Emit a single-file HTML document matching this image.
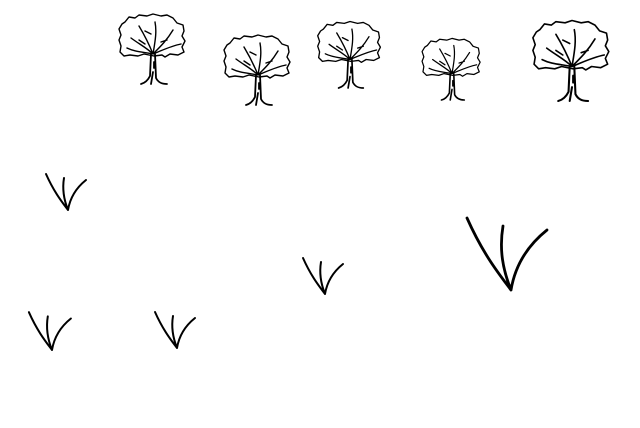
<!DOCTYPE html>
<html><head><meta charset="utf-8"><style>
html,body{margin:0;padding:0;background:#fff;width:640px;height:428px;overflow:hidden}
svg{display:block}
</style></head><body>
<svg id="scene" width="640" height="428" viewBox="0 0 640 428" xmlns="http://www.w3.org/2000/svg">
<defs>
<g id="tree" fill="none" stroke="#000" stroke-width="1.4" stroke-linejoin="round" stroke-linecap="round">
<path d="M-28,-62 l4,-5 l6,1 l4,-3 l8,1 l6,-2 l8,2 l6,-1 l6,3 l4,5 l6,2 l1,6 l-2,5 l3,5 l-3,6 l2,5 l-6,3 l-8,-1 l-5,3 l-3,-2 l-8,1 l-10,-2 l-6,2 l-8,-1 l-6,1 l-4,-4 l1,-6 l-2,-6 l2,-5 l-2,-6 l3,-5 z"/>
<path d="M0,-30 C-6,-36 -14,-40 -22,-46 M0,-30 C-4,-40 -8,-48 -14,-58 M0,-30 C2,-42 4,-52 2,-62 M0,-30 C8,-38 14,-44 20,-54 M0,-30 C10,-34 18,-38 28,-40 M0,-30 C-10,-32 -18,-32 -26,-36 M-8,-40 l-6,-4 M8,-42 l6,-2 M-2,-50 l-6,-3"/>
<path d="M-2,-30 L-3,-8 C-5,-4 -8,-1 -12,0 M2,-30 L3,-6 C5,-2 8,0 14,0 M0,-12 L-2,0 M1,-22 l0,6" stroke-width="1.8"/>
</g>
</defs>
<g id="trees"></g>
<g id="tufts"></g>
</svg>
<script>
// tree base positions (x, base y) and scale
const treeX = [153, 258, 350, 452, 572];
const treeY = [84, 105, 88, 100, 101];
const treeS = [1.0, 1.0, 0.95, 0.88, 1.15];
// grass tufts: base point and scale
const tuftX = [68, 325, 52, 177, 511];
const tuftY = [210, 294, 350, 348, 290];
const tuftS = [1.0, 1.0, 1.05, 1.0, 2.0];
const NS = "http://www.w3.org/2000/svg";
const tg = document.getElementById('trees');
treeX.forEach((x, i) => {
  const u = document.createElementNS(NS, 'use');
  u.setAttribute('href', '#tree');
  u.setAttribute('transform', `translate(${x},${treeY[i]}) scale(${treeS[i]})`);
  
  
  tg.appendChild(u);
});
const gg = document.getElementById('tufts');
tuftX.forEach((x, i) => {
  const s = tuftS[i];
  const p = document.createElementNS(NS, 'path');
  p.setAttribute('d', 'M0,0 C-6,-8 -14,-18 -22,-36 M0,0 C-4,-10 -6,-20 -4,-32 M0,0 C2,-12 8,-22 18,-30');
  p.setAttribute('transform', `translate(${x},${tuftY[i]}) scale(${s})`);
  p.setAttribute('fill', 'none');
  p.setAttribute('stroke', '#000');
  p.setAttribute('stroke-width', (2 / s * (s > 1.5 ? 1.4 : 1)).toFixed(2));
  p.setAttribute('stroke-linecap', 'round');
  
  
  gg.appendChild(p);
});
</script>
</body></html>
